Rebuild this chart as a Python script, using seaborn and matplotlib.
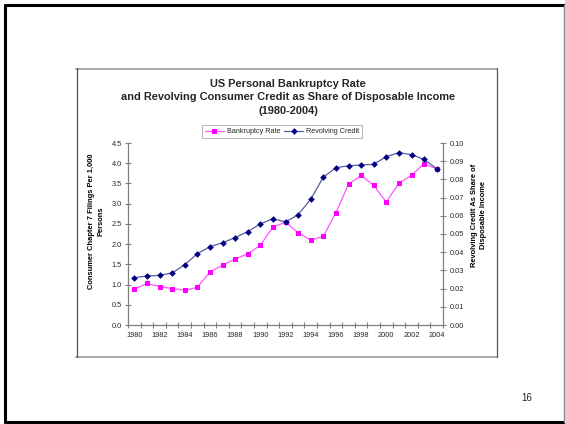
import numpy as np
import pandas as pd
import matplotlib
matplotlib.use("Agg")
import matplotlib.pyplot as plt
import seaborn as sns
from matplotlib.lines import Line2D

years = list(range(1980, 2005))
bankruptcy_rate = [0.88, 1.03, 0.95, 0.90, 0.86, 0.93, 1.31, 1.48, 1.63, 1.76, 1.97,
                   2.42, 2.54, 2.28, 2.10, 2.19, 2.78, 3.48, 3.70, 3.45, 3.04, 3.51,
                   3.70, 3.99, 3.86]
revolving_credit = [0.0260, 0.0269, 0.0273, 0.0286, 0.0331, 0.0392, 0.0430, 0.0452,
                    0.0480, 0.0513, 0.0555, 0.0584, 0.0566, 0.0606, 0.0691, 0.0812,
                    0.0864, 0.0875, 0.0879, 0.0883, 0.0925, 0.0947, 0.0936, 0.0910,
                    0.0859]
left_ticks = [0.0, 0.5, 1.0, 1.5, 2.0, 2.5, 3.0, 3.5, 4.0, 4.5]
right_ticks = [0.00, 0.01, 0.02, 0.03, 0.04, 0.05, 0.06, 0.07, 0.08, 0.09, 0.10]

df = pd.DataFrame({"idx": np.arange(len(years)), "year": years,
                   "bank": bankruptcy_rate, "rev": revolving_credit})

sns.set_style("white")
plt.rcParams["font.family"] = ["Liberation Sans", "DejaVu Sans"]

W, H = 565, 424
fig = plt.figure(figsize=(W / 100, H / 100), dpi=100)

def fx(x):
    return x / W

def fy(y):
    return 1 - y / H

# slide border
fig.add_artist(Line2D([fx(5), fx(564)], [fy(5), fy(5)], color="black", lw=2.2))
fig.add_artist(Line2D([fx(5), fx(5)], [fy(5), fy(422)], color="black", lw=2.2))
fig.add_artist(Line2D([fx(5), fx(564)], [fy(422), fy(422)], color="black", lw=2.2))
fig.add_artist(Line2D([fx(564), fx(564)], [fy(5), fy(422)], color="#888888", lw=1.0))

# chart box
fig.add_artist(Line2D([fx(76), fx(497)], [fy(68.5), fy(68.5)], color="#a0a0a0", lw=1.3))
fig.add_artist(Line2D([fx(76), fx(497)], [fy(357), fy(357)], color="#a0a0a0", lw=1.3))
fig.add_artist(Line2D([fx(76.5), fx(76.5)], [fy(68), fy(357)], color="#555555", lw=0.9))
fig.add_artist(Line2D([fx(497), fx(497)], [fy(68), fy(357)], color="#555555", lw=0.9))

ax = fig.add_axes([fx(128), fy(325), fx(443) - fx(128), fy(143) - fy(325)])
ax2 = ax.twinx()

sns.lineplot(data=df, x="idx", y="bank", ax=ax, color="#ff55ff", linewidth=0.9,
             marker="s", markersize=3.6, markerfacecolor="#ff00ff",
             markeredgecolor="#ff00ff", markeredgewidth=0, label="Bankruptcy Rate",
             legend=False)
sns.lineplot(data=df, x="idx", y="rev", ax=ax2, color="#5a5aa0", linewidth=0.9,
             marker="D", markersize=3.4, markerfacecolor="#000080",
             markeredgecolor="#000080", markeredgewidth=0, label="Revolving Credit",
             legend=False)

ax.set_xlim(-0.5, len(years) - 0.5)
ax.set_ylim(0, 4.5)
ax2.set_ylim(0, 0.10)

ax.set_yticks(left_ticks)
ax.set_yticklabels([f"{v:.1f}" for v in left_ticks])
ax2.set_yticks(right_ticks)
ax2.set_yticklabels([f"{v:.2f}" for v in right_ticks])

ax.set_xticks(np.arange(len(years) + 1) - 0.5)
ax.set_xticklabels([])
ax.set_xticks(np.arange(0, len(years), 2), minor=True)
ax.set_xticklabels([str(y) for y in years[::2]], minor=True)

for a in (ax, ax2):
    for s in a.spines.values():
        s.set_color("#808080")
        s.set_linewidth(0.9)
    a.spines["top"].set_visible(False)
    a.set_facecolor("none")
ax2.spines["left"].set_visible(False)
ax2.spines["bottom"].set_visible(False)
ax.spines["right"].set_visible(False)

ax.tick_params(axis="y", which="major", direction="inout", length=5, width=0.8,
               color="#808080", labelsize=5.3, pad=2, left=True)
ax.tick_params(axis="x", which="major", direction="inout", length=5, width=0.8,
               color="#808080", bottom=True)
ax.tick_params(axis="x", which="minor", length=0, labelsize=5.3, pad=5)
ax2.tick_params(axis="y", which="major", direction="inout", length=5, width=0.8,
                color="#808080", labelsize=5.3, pad=2, right=True)

ax.set_xlabel("")
ax.set_ylabel("")
ax2.set_ylabel("")

fig.text(fx(96.5), fy(221), "Consumer Chapter 7 Filings Per 1,000\nPersons",
         rotation=90, ha="center", va="center", fontsize=5.4, fontweight="bold",
         linespacing=1.45, color="black")
fig.text(fx(479), fy(215), "Revolving Credit As Share of\nDisposable Income",
         rotation=90, ha="center", va="center", fontsize=5.4, fontweight="bold",
         linespacing=1.45, color="black")

fig.text(fx(288), fy(97.5), "US Personal Bankruptcy Rate\nand Revolving Consumer Credit as Share of Disposable Income\n(1980-2004)",
         ha="center", va="center", fontsize=7.9, fontweight="bold", linespacing=1.42)

fig.text(fx(527), fy(398), "16", ha="center", va="center", fontsize=7)

h1, l1 = ax.get_legend_handles_labels()
h2, l2 = ax2.get_legend_handles_labels()
leg = fig.legend(h1 + h2, l1 + l2, loc="center", bbox_to_anchor=(fx(282), fy(131.5)),
                 ncol=2, fontsize=5.2, frameon=True, fancybox=False,
                 handlelength=2.6, handletextpad=0.4, columnspacing=0.6,
                 borderpad=0.35, edgecolor="#a0a0a0")
leg.get_frame().set_linewidth(0.7)

fig.savefig("out.png", dpi=100)
